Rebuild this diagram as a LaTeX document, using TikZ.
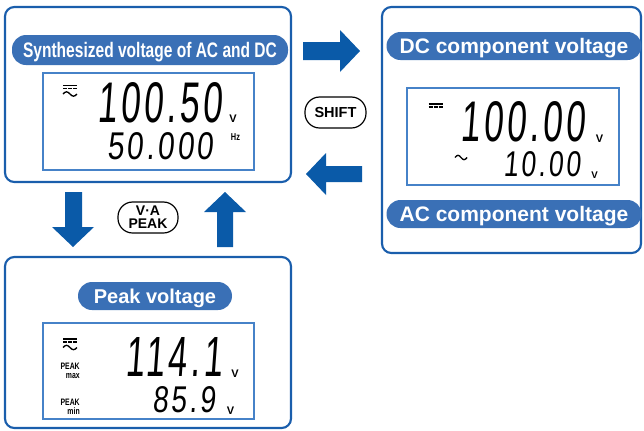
\documentclass[tikz,border=0pt]{standalone}
\usepackage{fontspec}
\usepackage{graphicx}
\setmainfont{Liberation Sans}
\newfontfamily\narrowfont[FakeStretch=0.74]{Liberation Sans}
\newfontfamily\lcdfont[FakeSlant=0.12, LetterSpace=10]{Liberation Sans}
\newlength{\pxu}
\setlength{\pxu}{0.75pt}
\definecolor{framecol}{RGB}{26,94,172}
\definecolor{pillcol}{RGB}{58,112,182}
\definecolor{arrowcol}{RGB}{10,90,168}
\definecolor{lcdcol}{RGB}{70,130,200}
\tikzset{
  panel/.style={draw=framecol, line width=1.6pt, rounded corners=7pt, fill=white, inner sep=0pt},
  pill/.style={fill=pillcol, text=white, rounded corners=10.5pt, minimum height=28\pxu, inner sep=0pt, text depth=0pt, font=\bfseries\fontsize{15.75}{16}\selectfont},
  lcdbox/.style={draw=lcdcol, line width=0.8pt, fill=white, inner sep=0pt},
  keycap/.style={draw=black, line width=0.9pt, rounded corners=11pt, fill=white, inner sep=0pt, align=center, font=\bfseries\fontsize{10.9}{9.75}\selectfont},
  digits/.style={inner sep=0pt, anchor=south west},
  unit/.style={inner sep=0pt, font=\bfseries\fontsize{8.25}{9}\selectfont},
  peaktag/.style={inner sep=0pt, anchor=east, align=right, font=\narrowfont\bfseries\fontsize{7}{6.75}\selectfont},
  blockarrow/.style={fill=arrowcol},
  symline/.style={line width=1pt},
  pics/dcsign/.style={code={
    \draw[symline] (0,0) -- (14,0);
    \draw[symline] (0,3) -- (4,3) (5,3) -- (9,3) (10,3) -- (14,3);
  }},
  pics/acsign/.style={code={
    \draw[symline] (0,0) sin (3.5,-2.2) cos (7,0) sin (10.5,2.2) cos (14,0);
  }}
}

\begin{document}
\begin{tikzpicture}[x=0.75pt, y=-0.75pt]
  \useasboundingbox (0,0) rectangle (644,430);
  % panels
  \node[panel, minimum width=286\pxu, minimum height=175\pxu] (mixpanel) at (148,94.5) {};
  \node[panel, minimum width=259\pxu, minimum height=246\pxu] (splitpanel) at (511.5,130) {};
  \node[panel, minimum width=286\pxu, minimum height=171\pxu] (peakpanel) at (148,342.5) {};
  % titles
  \node[pill, minimum width=276\pxu, minimum height=30\pxu] (mixtitle) at (150,50) {\narrowfont Synthesized voltage of AC and DC};
  \node[pill, minimum width=255\pxu] (dctitle) at (514,46) {DC component voltage};
  \node[pill, minimum width=255\pxu] (actitle) at (514,214) {AC component voltage};
  \node[pill, minimum width=154\pxu, font=\bfseries\fontsize{15}{16}\selectfont] (peaktitle) at (155,296) {Peak voltage};
  % LCD windows
  \node[lcdbox, minimum width=211\pxu, minimum height=97\pxu] (mixlcd) at (148.5,121.5) {};
  \node[lcdbox, minimum width=212\pxu, minimum height=97\pxu] (splitlcd) at (513,136.5) {};
  \node[lcdbox, minimum width=211\pxu, minimum height=96\pxu] (peaklcd) at (148.5,371) {};
  % readings
  \node[digits] (mixmain) at (97,123) {\resizebox{125\pxu}{40\pxu}{\lcdfont 100.50}};
  \node[digits] (mixfreq) at (107,160) {\resizebox{106\pxu}{27\pxu}{\lcdfont 50.000}};
  \node[digits] (dcmain) at (460,142) {\resizebox{125\pxu}{40\pxu}{\lcdfont 100.00}};
  \node[digits] (acmain) at (503,177) {\resizebox{77\pxu}{25\pxu}{\lcdfont 10.00}};
  \node[digits] (peakmax) at (125,377) {\resizebox{97\pxu}{39\pxu}{\lcdfont 114.1}};
  \node[digits] (peakmin) at (152,413) {\resizebox{63\pxu}{26\pxu}{\lcdfont 85.9}};
  % units
  \node[unit] (mixvolt) at (233,118.5) {V};
  \node[unit, font=\narrowfont\bfseries\fontsize{7.5}{8}\selectfont] (mixhz) at (235.5,137) {Hz};
  \node[unit] (dcvolt) at (599.5,139) {V};
  \node[unit, font=\bfseries\fontsize{7.25}{8}\selectfont] (acvolt) at (594.5,175) {V};
  \node[unit] (maxvolt) at (235,374) {V};
  \node[unit] (minvolt) at (230.5,411) {V};
  \node[peaktag] (maxtag) at (80,371) {PEAK\\max};
  \node[peaktag] (mintag) at (80,406.5) {PEAK\\min};
  % mode signs
  \pic at (63,85.5) {dcsign};
  \pic at (63,94) {acsign};
  \pic at (428.5,104) {dcsign};
  \pic[xscale=0.86] at (455,157.5) {acsign};
  \pic at (63,339) {dcsign};
  \pic at (63,347.5) {acsign};
  % keys
  \node[keycap, minimum width=61\pxu, minimum height=31\pxu] (shiftkey) at (335.5,112.5) {SHIFT};
  \node[keycap, minimum width=60\pxu, minimum height=31\pxu, font=\bfseries\fontsize{10.5}{9.75}\selectfont] (peakkey) at (148,217.5) {V·A\\PEAK};
  % arrows
  \fill[blockarrow] (303,42) -- (340,42) -- (340,30) -- (360,51) -- (340,72) -- (340,60) -- (303,60) -- cycle;
  \fill[blockarrow] (362,166) -- (326,166) -- (326,153) -- (306,174) -- (326,195) -- (326,182) -- (362,182) -- cycle;
  \fill[blockarrow] (65,192) -- (82,192) -- (82,227) -- (94,227) -- (73,247) -- (52,227) -- (65,227) -- cycle;
  \fill[blockarrow] (217,247) -- (217,212) -- (204,212) -- (225,192) -- (246,212) -- (233,212) -- (233,247) -- cycle;
\end{tikzpicture}
\end{document}
